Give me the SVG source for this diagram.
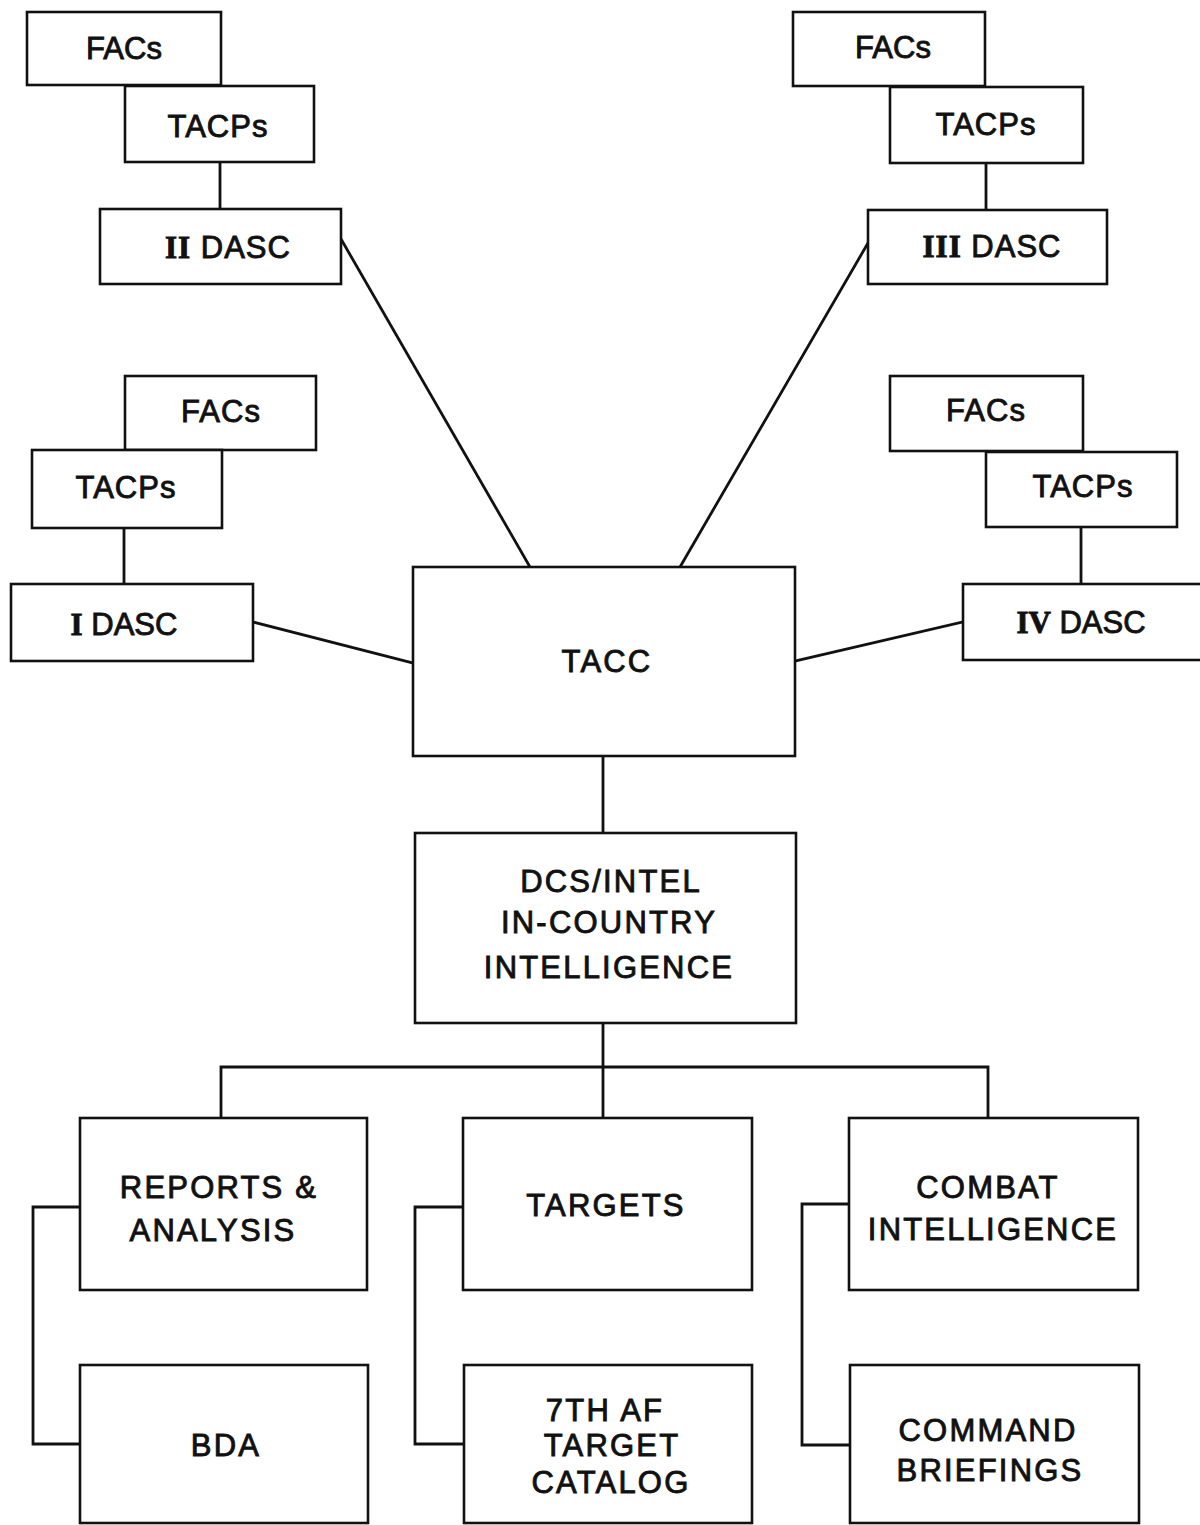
<svg xmlns="http://www.w3.org/2000/svg" width="1200" height="1525" viewBox="0 0 1200 1525">
<style>
.box{fill:#fff;stroke:#111;stroke-width:2.6}
.ln{fill:none;stroke:#111;stroke-width:2.8;stroke-linecap:square}
.t{font-family:"Liberation Sans",Arial,sans-serif;font-size:31px;fill:#111;stroke:#111;stroke-width:0.9;text-anchor:middle}
.s{letter-spacing:1px}
.w{letter-spacing:2.2px}
.rn{font-family:"Liberation Serif","Times New Roman",serif;font-weight:bold}
</style>
<rect width="1200" height="1525" fill="#fff"/>
<g id="connectors">
<line class="ln" x1="220" y1="162" x2="220" y2="209"/>
<line class="ln" x1="986" y1="163" x2="986" y2="210"/>
<line class="ln" x1="124" y1="528" x2="124" y2="584"/>
<line class="ln" x1="1081" y1="527" x2="1081" y2="584"/>
<line class="ln" x1="341" y1="239" x2="530" y2="567"/>
<line class="ln" x1="868" y1="243" x2="680" y2="567"/>
<line class="ln" x1="253" y1="622" x2="413" y2="663"/>
<line class="ln" x1="963" y1="622" x2="795" y2="661"/>
<line class="ln" x1="603" y1="756" x2="603" y2="833"/>
<line class="ln" x1="603" y1="1023" x2="603" y2="1118"/>
<polyline class="ln" points="221,1118 221,1067 988,1067 988,1118"/>
<polyline class="ln" points="80,1207 33,1207 33,1444 80,1444"/>
<polyline class="ln" points="463,1207 415,1207 415,1444 464,1444"/>
<polyline class="ln" points="849,1204 802,1204 802,1445 850,1445"/>
</g>
<g id="facs-tl"><rect class="box" x="27" y="12" width="194" height="73"/><text class="t" x="124" y="59">FACs</text></g>
<g id="tacps-tl"><rect class="box" x="125" y="86" width="189" height="76"/><text class="t s" x="218" y="137">TACPs</text></g>
<g id="dasc2"><rect class="box" x="100" y="209" width="241" height="75"/><text class="t s" x="228" y="258"><tspan class="rn">II</tspan> DASC</text></g>
<g id="facs-tr"><rect class="box" x="793" y="12" width="192" height="74"/><text class="t" x="893" y="58">FACs</text></g>
<g id="tacps-tr"><rect class="box" x="890" y="87" width="193" height="76"/><text class="t s" x="986" y="135">TACPs</text></g>
<g id="dasc3"><rect class="box" x="868" y="210" width="239" height="74"/><text class="t s" x="992" y="257"><tspan class="rn">III</tspan>  DASC</text></g>
<g id="facs-ml"><rect class="box" x="125" y="376" width="191" height="74"/><text class="t s" x="221" y="422">FACs</text></g>
<g id="tacps-ml"><rect class="box" x="32" y="450" width="190" height="78"/><text class="t s" x="126" y="498">TACPs</text></g>
<g id="dasc1"><rect class="box" x="11" y="584" width="242" height="77"/><text class="t" x="124" y="635"><tspan class="rn">I</tspan> DASC</text></g>
<g id="facs-mr"><rect class="box" x="890" y="376" width="193" height="75"/><text class="t s" x="986" y="421">FACs</text></g>
<g id="tacps-mr"><rect class="box" x="986" y="452" width="191" height="75"/><text class="t s" x="1083" y="497">TACPs</text></g>
<g id="dasc4"><rect class="box" x="963" y="584" width="250" height="76"/><text class="t" x="1081" y="633"><tspan class="rn">IV</tspan> DASC</text></g>
<g id="tacc"><rect class="box" x="413" y="567" width="382" height="189"/><text class="t w" x="607" y="672">TACC</text></g>
<g id="dcs"><rect class="box" x="415" y="833" width="381" height="190"/><text class="t w" x="611" y="892">DCS/INTEL</text><text class="t w" x="609" y="933">IN-COUNTRY</text><text class="t w" x="609" y="978">INTELLIGENCE</text></g>
<g id="reports"><rect class="box" x="80" y="1118" width="287" height="172"/><text class="t w" x="219" y="1198">REPORTS &amp;</text><text class="t w" x="213" y="1241">ANALYSIS</text></g>
<g id="targets"><rect class="box" x="463" y="1118" width="289" height="172"/><text class="t w" x="606" y="1216">TARGETS</text></g>
<g id="combat"><rect class="box" x="849" y="1118" width="289" height="172"/><text class="t w" x="988" y="1198">COMBAT</text><text class="t w" x="993" y="1240">INTELLIGENCE</text></g>
<g id="bda"><rect class="box" x="80" y="1365" width="288" height="158"/><text class="t w" x="226" y="1456">BDA</text></g>
<g id="catalog"><rect class="box" x="464" y="1365" width="288" height="158"/><text class="t w" x="605" y="1421">7TH AF</text><text class="t w" x="612" y="1456">TARGET</text><text class="t w" x="611" y="1493">CATALOG</text></g>
<g id="briefings"><rect class="box" x="850" y="1365" width="289" height="158"/><text class="t w" x="988" y="1441">COMMAND</text><text class="t w" x="990" y="1481">BRIEFINGS</text></g>
</svg>
